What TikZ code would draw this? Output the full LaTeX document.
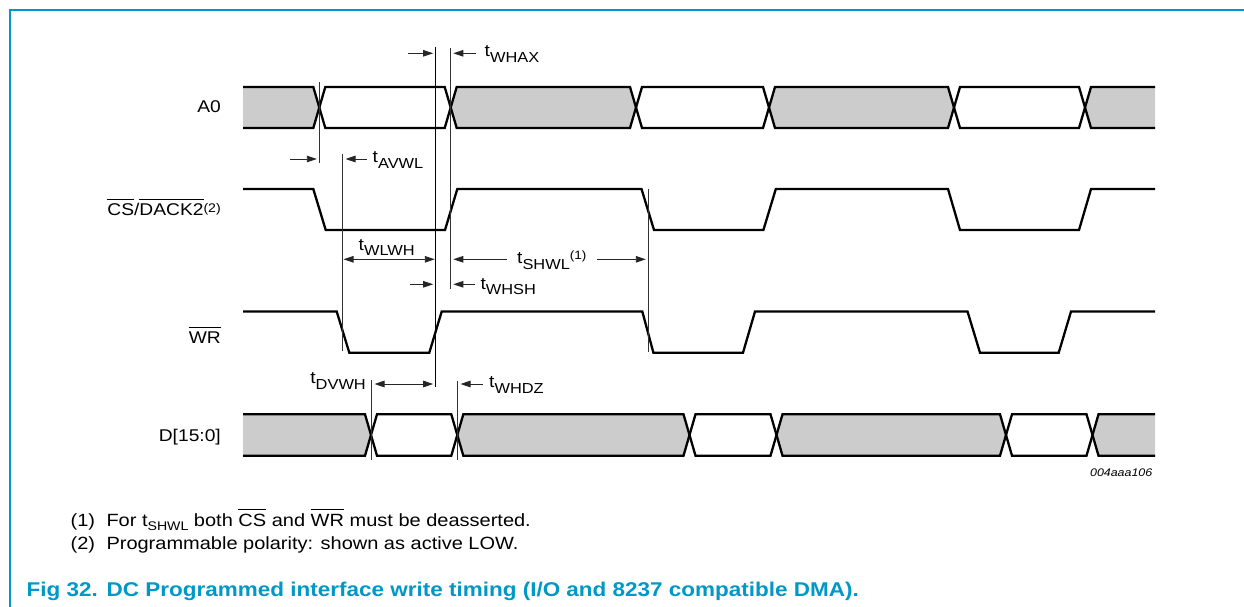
\documentclass[tikz,border=0pt]{standalone}
\usepackage{fontspec}
\setmainfont{Liberation Sans}[FakeStretch=1.13]
\usetikzlibrary{arrows.meta}
\definecolor{nxpblue}{RGB}{0,152,199}
\definecolor{busgrey}{RGB}{204,204,204}
\newcommand\ovl[2][3.5pt]{{\setbox0\hbox{#2}\rlap{\raisebox{\dimexpr\ht0+#1\relax}{\rule{\wd0}{1.1pt}}}\box0}}
\newcommand\tsig[1]{t\raisebox{-5.8pt}{\fontsize{14.5}{14.5}\selectfont #1}}
\tikzset{
  sig/.style={line width=2.3pt, black},
  busfill/.style={fill=busgrey, draw=none},
  refl/.style={line width=0.9pt, black!80},
  keyl/.style={line width=1.2pt, black},
  arr/.style={-{Triangle[length=10pt,width=6.5pt]}, line width=0.9pt, black!85},
  darr/.style={{Triangle[length=10pt,width=6.5pt]}-{Triangle[length=10pt,width=6.5pt]}, line width=0.9pt, black!85},
  tlab/.style={inner sep=0pt, anchor=base west, font=\fontsize{17}{17}\selectfont},
  siglab/.style={inner sep=0pt, anchor=base east, font=\fontsize{17}{17}\selectfont},
  note/.style={inner sep=0pt, anchor=base west, font=\fontsize{17.7}{17.7}\selectfont},
  figcaption/.style={inner sep=0pt, anchor=base west, text=nxpblue, font=\fontsize{19.9}{19.9}\selectfont\bfseries},
}
\begin{document}
\begin{tikzpicture}[x=1pt,y=-1pt]
\useasboundingbox (0,0) rectangle (1244,607);
% frame
\draw[nxpblue, line width=1.5pt] (1244,10) -- (10,10) -- (10,607);

% ---------- A0 bus ----------
\fill[busfill] (243,87) -- (313.3,87) -- (319.3,107.5) -- (313.3,128) -- (243,128) -- cycle;
\fill[busfill] (450.7,107.5) -- (456.7,87) -- (630,87) -- (636,107.5) -- (630,128) -- (456.7,128) -- cycle;
\fill[busfill] (769,107.5) -- (775,87) -- (948,87) -- (954,107.5) -- (948,128) -- (775,128) -- cycle;
\fill[busfill] (1085,107.5) -- (1091,87) -- (1155,87) -- (1155,128) -- (1091,128) -- cycle;
\draw[sig] (243,87) -- (313.3,87) -- (325.3,128) -- (444.7,128) -- (456.7,87) -- (630,87) -- (642,128) -- (763,128) -- (775,87) -- (948,87) -- (960,128) -- (1079,128) -- (1091,87) -- (1155,87);
\draw[sig] (243,128) -- (313.3,128) -- (325.3,87) -- (444.7,87) -- (456.7,128) -- (630,128) -- (642,87) -- (763,87) -- (775,128) -- (948,128) -- (960,87) -- (1079,87) -- (1091,128) -- (1155,128);

% ---------- CS ----------
\draw[sig] (243,189) -- (313.3,189) -- (325.7,230) -- (445,230) -- (457.3,189) -- (641.5,189) -- (654,230) -- (763.4,230) -- (775.8,189) -- (948,189) -- (960,230) -- (1079,230) -- (1091,189) -- (1155,189);

% ---------- WR ----------
\draw[sig] (243,311.5) -- (336.7,311.5) -- (349.3,352.7) -- (429.3,352.7) -- (441.7,311.5) -- (642.3,311.5) -- (653.4,352.7) -- (743,352.7) -- (755,311.5) -- (967.5,311.5) -- (980,352.7) -- (1058.7,352.7) -- (1071,311.5) -- (1155,311.5);

% ---------- D bus ----------
\fill[busfill] (243,414.3) -- (365,414.3) -- (371,435) -- (365,455.7) -- (243,455.7) -- cycle;
\fill[busfill] (457.3,435) -- (463.3,414.3) -- (683.5,414.3) -- (689.5,435) -- (683.5,455.7) -- (463.3,455.7) -- cycle;
\fill[busfill] (776.5,435) -- (782.5,414.3) -- (1000,414.3) -- (1006,435) -- (1000,455.7) -- (782.5,455.7) -- cycle;
\fill[busfill] (1092.5,435) -- (1098.5,414.3) -- (1155,414.3) -- (1155,455.7) -- (1098.5,455.7) -- cycle;
\draw[sig] (243,414.3) -- (365,414.3) -- (377,455.7) -- (451.3,455.7) -- (463.3,414.3) -- (683.5,414.3) -- (695.5,455.7) -- (770.5,455.7) -- (782.5,414.3) -- (1000,414.3) -- (1012,455.7) -- (1086.5,455.7) -- (1098.5,414.3) -- (1155,414.3);
\draw[sig] (243,455.7) -- (365,455.7) -- (377,414.3) -- (451.3,414.3) -- (463.3,455.7) -- (683.5,455.7) -- (695.5,414.3) -- (770.5,414.3) -- (782.5,455.7) -- (1000,455.7) -- (1012,414.3) -- (1086.5,414.3) -- (1098.5,455.7) -- (1155,455.7);

% ---------- reference lines ----------
\coordinate (avT) at (319.3,82);   \coordinate (avB) at (319.3,162.7);
\coordinate (wlT) at (342.5,154);  \coordinate (wlB) at (342.5,351);
\coordinate (whT) at (435.7,46.7); \coordinate (whB) at (435.7,386.7);
\coordinate (shT) at (450.8,48.3); \coordinate (shB) at (450.8,289);
\coordinate (swT) at (648.3,189);  \coordinate (swB) at (648.3,352);
\coordinate (dvT) at (371,379.5);  \coordinate (dvB) at (371,460);
\coordinate (dzT) at (457.5,380.5);\coordinate (dzB) at (457.5,460);
\draw[refl] (avT) -- (avB);
\draw[refl] (wlT) -- (wlB);
\draw[refl] (shT) -- (shB);
\draw[refl] (swT) -- (swB);
\draw[refl] (dvT) -- (dvB);
\draw[refl] (dzT) -- (dzB);
\draw[keyl] (whT) -- (whB);

% ---------- arrows ----------
% tWHAX
\coordinate (a1s) at (408.3,53.3); \coordinate (a1e) at (433.2,53.3);
\coordinate (a2s) at (476,53.3);   \coordinate (a2e) at (453.3,53.3);
\draw[arr] (a1s) -- (a1e);
\draw[arr] (a2s) -- (a2e);
\node[tlab] (twhax) at (484.5,56.3) {\tsig{WHAX}};
% tAVWL
\coordinate (b1s) at (290,159);  \coordinate (b1e) at (316.8,159);
\coordinate (b2s) at (367,159);  \coordinate (b2e) at (345.5,159);
\draw[arr] (b1s) -- (b1e);
\draw[arr] (b2s) -- (b2e);
\node[tlab] (tavwl) at (372.5,162.5) {\tsig{AVWL}};
% tWLWH
\coordinate (c1s) at (343.5,259.3); \coordinate (c1e) at (434.8,259.3);
\draw[darr] (c1s) -- (c1e);
\node[tlab] (twlwh) at (358.5,250) {\tsig{WLWH}};
% tSHWL
\coordinate (d1s) at (506.7,259.3); \coordinate (d1e) at (453.3,259.3);
\coordinate (d2s) at (597.3,259.3); \coordinate (d2e) at (645.8,259.3);
\draw[arr] (d1s) -- (d1e);
\draw[arr] (d2s) -- (d2e);
\node[tlab] (tshwl) at (517,263.5) {\tsig{SHWL\raisebox{9.5pt}{\fontsize{12}{12}\selectfont (1)}}};
% tWHSH
\coordinate (e1s) at (410,284.3); \coordinate (e1e) at (433.2,284.3);
\coordinate (e2s) at (475,284.3); \coordinate (e2e) at (453.3,284.3);
\draw[arr] (e1s) -- (e1e);
\draw[arr] (e2s) -- (e2e);
\node[tlab] (twhsh) at (480.3,289) {\tsig{WHSH}};
% tDVWH
\coordinate (f1s) at (374.5,384); \coordinate (f1e) at (433.2,384);
\draw[darr] (f1s) -- (f1e);
\node[tlab, anchor=base east] (tdvwh) at (366,383.5) {\tsig{DVWH}};
% tWHDZ
\coordinate (g1s) at (482.7,384); \coordinate (g1e) at (460.5,384);
\draw[arr] (g1s) -- (g1e);
\node[tlab] (twhdz) at (489,387.7) {\tsig{WHDZ}};

% ---------- signal labels ----------
\node[siglab] (la0) at (221,112.3) {A0};
\node[siglab] (lcs) at (221,215) {\ovl{CS}/\ovl{DACK2}\raisebox{3pt}{\fontsize{12.5}{12.5}\selectfont (2)}};
\node[siglab] (lwr) at (221,343.3) {\ovl{WR}};
\node[siglab] (ld) at (221,441.7) {D[15:0]};
\node[inner sep=0pt, anchor=base east, font=\fontsize{11}{11}\selectfont\itshape] (code) at (1152.5,476.7) {004aaa106};

% ---------- notes ----------
\node[note] (n1a) at (70.5,526) {(1)};
\node[note] (n1b) at (106.3,526) {For t\raisebox{-4pt}{\fontsize{12.5}{12.5}\selectfont SHWL} both \ovl[4pt]{CS} and \ovl[4pt]{WR} must be deasserted.};
\node[note] (n2a) at (70.5,549.3) {(2)};
\node[note] (n2b) at (106.3,549.3) {Programmable polarity: shown as active LOW.};
\node[figcaption] (capa) at (26.5,596) {Fig 32.};
\node[figcaption] (capb) at (106.5,596) {DC Programmed interface write timing (I/O and 8237 compatible DMA).};
\end{tikzpicture}
\end{document}
